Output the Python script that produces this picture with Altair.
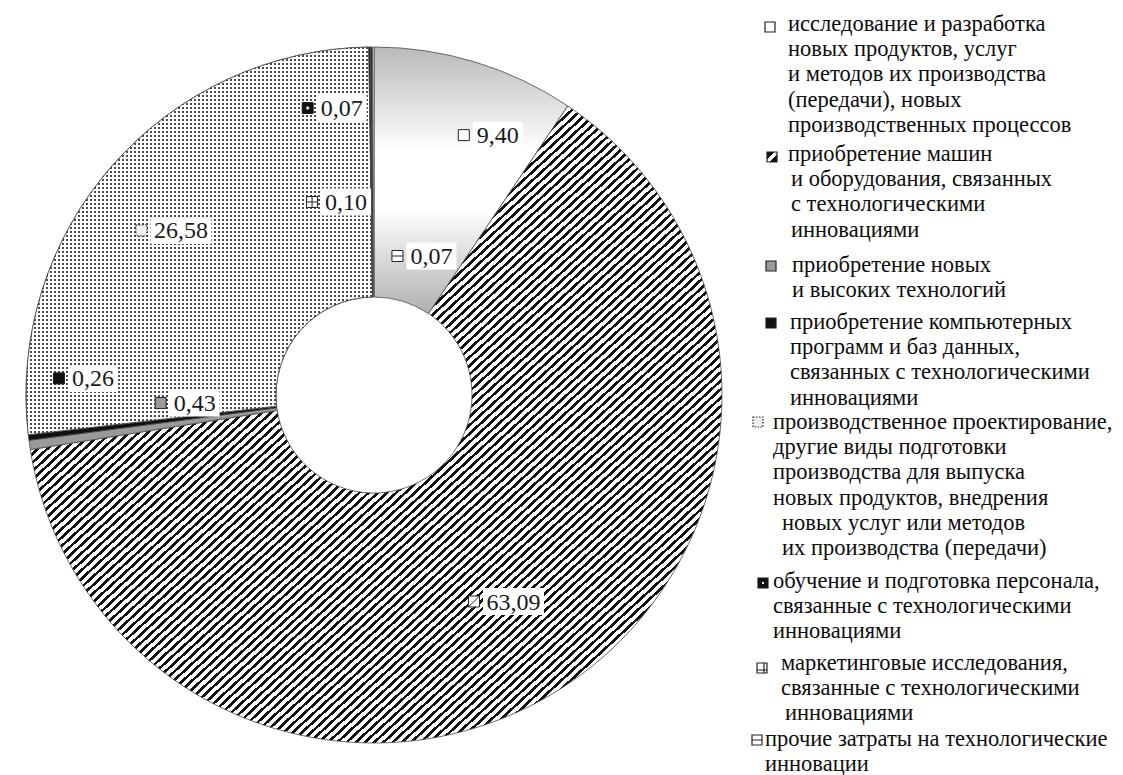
import math
import altair as alt
import pandas as pd

# ---- data -----------------------------------------------------------------
keys = ["rnd", "machines", "newtech", "software", "design", "training", "marketing", "other"]
values = [9.40, 63.09, 0.43, 0.26, 26.58, 0.07, 0.10, 0.07]

legend_lines = [
    ["исследование и разработка", "новых продуктов, услуг", "и методов их производства",
     "(передачи), новых", "производственных процессов"],
    ["приобретение машин", "и оборудования, связанных", "с технологическими", "инновациями"],
    ["приобретение новых", "и высоких технологий"],
    ["приобретение компьютерных", "программ и баз данных,", "связанных с технологическими",
     "инновациями"],
    ["производственное проектирование,", "другие виды подготовки", "производства для выпуска",
     "новых продуктов, внедрения", "новых услуг или методов", "их производства (передачи)"],
    ["обучение и подготовка персонала,", "связанные с технологическими", "инновациями"],
    ["маркетинговые исследования,", "связанные с технологическими", "инновациями"],
    ["прочие затраты на технологические", "инновации"],
]

# ---- layout ---------------------------------------------------------------
W, H = 1123, 775
CX, CY = 374, 395
R_OUT, R_IN = 348, 98
LABEL_R = 257
FONT = "Liberation Serif, DejaVu Serif, serif"

# hand placement of the value labels relative to each slice's mid-angle
label_nudge = [(49, -14), (1, -10), (75, -29), (-26, -48), (0, 5), (-29, -30), (-26, 64), (58, 118)]

legend_top = [24, 154, 265, 322, 422, 581, 663, 739]
legend_step = 25.2
legend_text_x = [788, 788, 792, 790, 773, 773, 781, 765]
legend_line_shift = {(4, 4): 9, (4, 5): 9, (1, 1): 3, (1, 2): 3, (1, 3): 3, (6, 2): 4}
legend_icon_x = [770, 772, 771, 771, 758, 763, 762, 757]
legend_icon_dy = [3, 3, 1, 1, 0, 2, 5, 1]


# ---- fills ----------------------------------------------------------------
def stripes(n, frac, c_on, c_off, x2, y2):
    stops = []
    for k in range(n):
        a, b, c = k / n, (k + frac) / n, (k + 1) / n
        stops += [
            {"offset": round(a, 5), "color": c_on},
            {"offset": round(b, 5), "color": c_on},
            {"offset": round(b, 5), "color": c_off},
            {"offset": round(c, 5), "color": c_off},
        ]
    stops[-1]["offset"] = 1
    return {"gradient": "linear", "x1": 0, "y1": 0, "x2": x2, "y2": y2, "stops": stops}


def stripes_px(length, period, on, c_on, c_off, x2, y2):
    """Stripes with a fixed pixel pitch across a box `length` pixels long."""
    stops, p = [], 0.0
    while p < length:
        a, b = p / length, min((p + on) / length, 1)
        c = min((p + period) / length, 1)
        stops += [
            {"offset": round(a, 5), "color": c_on},
            {"offset": round(b, 5), "color": c_on},
            {"offset": round(b, 5), "color": c_off},
            {"offset": round(c, 5), "color": c_off},
        ]
        p += period
    return {"gradient": "linear", "x1": 0, "y1": 0, "x2": x2, "y2": y2, "stops": stops}


def linear(stops, x2=0, y2=1):
    return {"gradient": "linear", "x1": 0, "y1": 0, "x2": x2, "y2": y2,
            "stops": [{"offset": o, "color": c} for o, c in stops]}


def arc_box(start_pct, end_pct):
    """Pixel width and height of an annular sector's bounding box."""
    xs, ys = [], []
    for s in range(401):
        a = math.radians((start_pct + (end_pct - start_pct) * s / 400) * 3.6)
        for r in (R_IN, R_OUT):
            xs.append(r * math.sin(a))
            ys.append(-r * math.cos(a))
    return max(xs) - min(xs), max(ys) - min(ys)


design_start = sum(values[:4])
dw, dh = arc_box(design_start, design_start + values[4])

shaded = linear([(0, "#bababa"), (0.39, "#ffffff"), (0.61, "#ffffff"), (1, "#b0b0b0")])
hatch = stripes(150, 0.42, "#111111", "#ffffff", 1, 1)
dots_rows = stripes_px(dh, 4, 2, "#4a4a4a", "#ffffff", 0, 1)
dots_mask = stripes_px(dw, 4, 2, "rgba(255,255,255,0)", "#ffffff", 1, 0)
radial = {"gradient": "radial", "x1": 0.5, "y1": 0.5, "r1": 0, "x2": 0.5, "y2": 0.5, "r2": 0.5,
          "stops": [{"offset": 0, "color": "#ffffff"}, {"offset": 0.22, "color": "#ffffff"},
                    {"offset": 0.3, "color": "#111111"}, {"offset": 1, "color": "#111111"}]}
diag_band = linear([(0, "#111111"), (0.38, "#111111"), (0.38, "#ffffff"), (0.62, "#ffffff"),
                    (0.62, "#111111"), (1, "#111111")], x2=1, y2=1)

slice_fill = {
    "rnd": shaded, "machines": hatch, "newtech": "#9a9a9a", "software": "#111111",
    "design": dots_rows, "training": "#111111", "marketing": "#333333", "other": "#ffffff",
}

BOX = "M-1,-1H1V1H-1Z"
# (shape, fill, dashed outline)
label_icon = {
    "rnd": ("square", "#ffffff", False),
    "machines": (BOX + " M-1,1L1,-1", "#ffffff", False),
    "newtech": ("square", "#9a9a9a", False),
    "software": ("square", "#111111", False),
    "design": ("square", "#f0f0f0", True),
    "training": ("square", radial, False),
    "marketing": (BOX + " M0,-1V1 M-1,0H1", "#ffffff", False),
    "other": (BOX + " M-1,0H1", "#ffffff", False),
}
legend_icon = {
    "rnd": ("square", "#ffffff", False),
    "machines": ("square", diag_band, False),
    "newtech": ("square", "#9a9a9a", False),
    "software": ("square", "#111111", False),
    "design": ("square", "#eeeeee", True),
    "training": ("square", radial, False),
    "marketing": (BOX + " M0.4,-1V1 M-1,0.4H1", "#ffffff", False),
    "other": (BOX + " M-1,0H1", "#ffffff", False),
}

# ---- tables ---------------------------------------------------------------
rows = []
cum = 0.0
for i, (k, v) in enumerate(zip(keys, values)):
    start, end = cum, cum + v
    cum = end
    mid = math.radians((start + v / 2) / 100 * 360)
    txt = f"{v:.2f}".replace(".", ",")
    bx = CX + LABEL_R * math.sin(mid) + label_nudge[i][0]
    by = CY - LABEL_R * math.cos(mid) + label_nudge[i][1]
    bw = 11 * len(txt) + 6
    rows.append({"key": k, "value": v, "start": start, "end": end, "txt": txt,
                 "bx": bx, "by": by, "bw": bw, "ix": bx - bw / 2 - 9})
df = pd.DataFrame(rows)

leg_rows, icon_rows = [], []
for i, lines in enumerate(legend_lines):
    for j, line in enumerate(lines):
        leg_rows.append({"text": line,
                         "x": legend_text_x[i] + legend_line_shift.get((i, j), 0),
                         "y": legend_top[i] + legend_step * j})
    icon_rows.append({"key": keys[i], "x": legend_icon_x[i], "y": legend_top[i] + legend_icon_dy[i]})
df_leg = pd.DataFrame(leg_rows)
df_icon = pd.DataFrame(icon_rows)

theta = alt.Theta("start:Q", stack=None, scale=alt.Scale(domain=[0, 100], range=[0, 2 * math.pi]))
center = dict(x=alt.value(CX), y=alt.value(CY))

layers = []
base = alt.Chart(df)
for k in keys:
    layers.append(
        base.transform_filter(alt.datum.key == k)
        .mark_arc(innerRadius=R_IN, outerRadius=R_OUT, fill=slice_fill[k],
                  stroke="#4a4a4a", strokeWidth=0.8)
        .encode(theta=theta, theta2="end:Q", **center)
    )
    if k == "design":
        layers.append(
            base.transform_filter(alt.datum.key == k)
            .mark_arc(innerRadius=R_IN, outerRadius=R_OUT, fill=dots_mask,
                      stroke="#4a4a4a", strokeWidth=0.8)
            .encode(theta=theta, theta2="end:Q", **center)
        )

px = lambda f: alt.X(f"{f}:Q", scale=None, axis=None)
py = lambda f: alt.Y(f"{f}:Q", scale=None, axis=None)


def icon_mark(chart, spec, size, sw):
    shape, fill, dashed = spec
    kw = dict(shape=shape, size=size, filled=True, fill=fill, stroke="#222222",
              strokeWidth=sw, opacity=1)
    if dashed:
        kw["strokeDash"] = [1.5, 1.5]
    return chart.mark_point(**kw)


# value labels: white box, pattern icon and the number
for k in keys:
    r = df[df.key == k].iloc[0]
    hw = r.bw / 27
    sel = base.transform_filter(alt.datum.key == k)
    layers.append(
        sel.mark_point(shape=f"M-{hw:.3f},-1H{hw:.3f}V1H-{hw:.3f}Z", size=27 * 27, filled=True,
                       fill="#ffffff", strokeWidth=0, opacity=1)
        .encode(x=px("bx"), y=py("by"))
    )
    layers.append(icon_mark(sel, label_icon[k], 121, 1).encode(x=px("ix"), y=py("by")))
layers.append(
    base.mark_text(font=FONT, fontSize=24, color="#1a1a1a", align="center", baseline="middle", dy=1)
    .encode(x=px("bx"), y=py("by"), text="txt:N")
)

# legend
layers.append(
    alt.Chart(df_leg).mark_text(font=FONT, fontSize=22.5, color="#0d0d0d", align="left",
                                baseline="middle")
    .encode(x=px("x"), y=py("y"), text="text:N")
)
for k in keys:
    layers.append(
        icon_mark(alt.Chart(df_icon).transform_filter(alt.datum.key == k), legend_icon[k], 100, 1.2)
        .encode(x=px("x"), y=py("y"))
    )

chart = (
    alt.layer(*layers)
    .properties(width=W, height=H, autosize=alt.AutoSizeParams(type="none"), padding=0,
                background="#ffffff")
    .configure_view(stroke=None)
)

chart.save("out.html", embed_options={"renderer": "svg", "actions": False})
